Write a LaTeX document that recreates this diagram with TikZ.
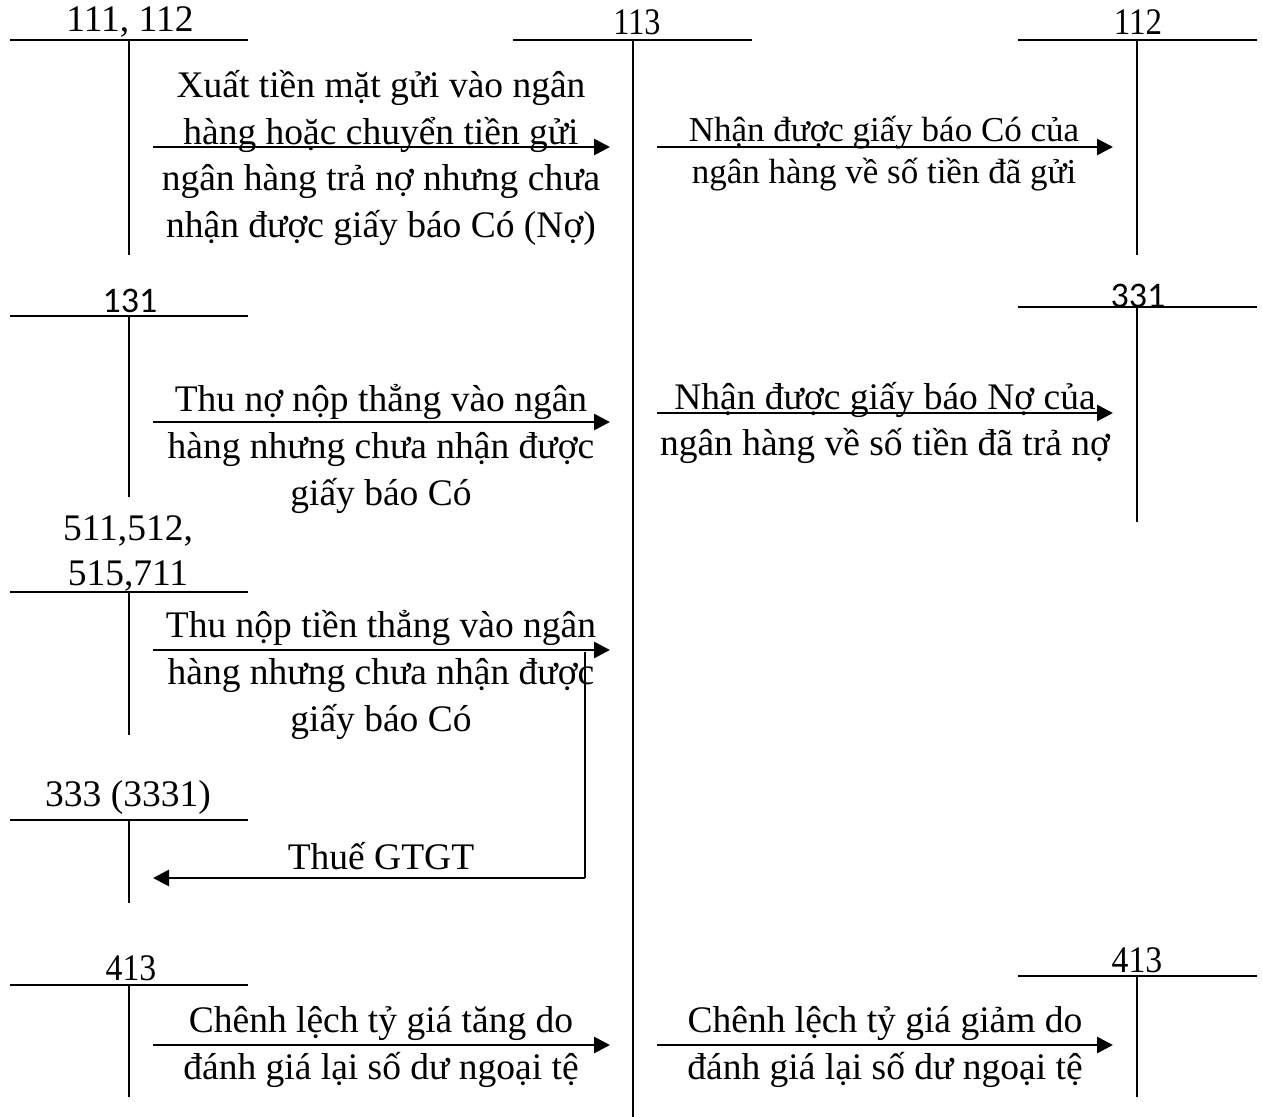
\documentclass[tikz,border=0pt]{standalone}
\usepackage{fontspec}
\setmainfont{Liberation Serif}
\newfontfamily\calibrifont{Carlito}
\usetikzlibrary{arrows.meta}
\tikzset{
  tline/.style={line width=1.8pt},
  arr/.style={line width=2.8pt,-{Triangle[length=16pt,width=16pt]}},
  lbl/.style={inner sep=0pt,font=\fontsize{37.5}{44}\selectfont},
  slbl/.style={inner sep=0pt,font=\calibrifont\fontsize{36}{44}\selectfont},
  desc/.style={inner sep=0pt,align=center,font=\fontsize{37.5}{46.7}\selectfont},
}
\begin{document}
\begin{tikzpicture}[x=1pt,y=-1pt]
\useasboundingbox (0,0) rectangle (1262,1117);
% ---- T-accounts
\node[lbl] (l111) at (130,22) {111, 112};
\draw[tline] (10,40) -- (248,40) (129,40) -- (129,255);
\node[lbl,xscale=0.86] (l113) at (637,22) {113};
\draw[tline] (513,40) -- (752,40) (633,40) -- (633,1117);
\node[lbl,xscale=0.88] (l112) at (1138,22) {112};
\draw[tline] (1018,40) -- (1257,40) (1137,40) -- (1137,255);
\node[slbl] (l131) at (130,301) {131};
\draw[tline] (10,316) -- (248,316) (129,316) -- (129,497);
\node[slbl] (l331) at (1138,296) {331};
\draw[tline] (1018,307) -- (1257,307) (1137,307) -- (1137,522);
\node[desc,font=\fontsize{37.5}{45}\selectfont] (l511) at (128,553) {511,512,\\515,711};
\draw[tline] (10,592) -- (248,592) (129,592) -- (129,735);
\node[lbl] (l333) at (128,797) {333 (3331)};
\draw[tline] (10,820) -- (248,820) (129,820) -- (129,903);
\node[lbl,xscale=0.9] (l413a) at (131,968) {413};
\draw[tline] (10,985) -- (248,985) (129,985) -- (129,1097);
\node[lbl,xscale=0.9] (l413b) at (1137,960) {413};
\draw[tline] (1018,976) -- (1257,976) (1137,976) -- (1137,1097);
% ---- arrows
\coordinate (a1s) at (153,147); \coordinate (a1e) at (610,147);
\coordinate (a2s) at (657,147); \coordinate (a2e) at (1113,147);
\coordinate (a3s) at (153,422); \coordinate (a3e) at (610,422);
\coordinate (a4s) at (657,413); \coordinate (a4e) at (1113,413);
\coordinate (a5s) at (153,650); \coordinate (a5e) at (610,650);
\coordinate (v1) at (585,652); \coordinate (v2) at (585,878); \coordinate (v3) at (153,878);
\coordinate (a6s) at (153,1045); \coordinate (a6e) at (610,1045);
\coordinate (a7s) at (657,1045); \coordinate (a7e) at (1113,1045);
\draw[arr] (a1s) -- (a1e);
\draw[arr] (a2s) -- (a2e);
\draw[arr] (a3s) -- (a3e);
\draw[arr] (a4s) -- (a4e);
\draw[arr] (a5s) -- (a5e);
\draw[line width=1.8pt] (v1) -- (v2);
\draw[arr] (v2) -- (v3);
\draw[arr] (a6s) -- (a6e);
\draw[arr] (a7s) -- (a7e);
% ---- texts
\node[desc] (t1) at (381,158) {Xuất tiền mặt gửi vào ngân\\hàng hoặc chuyển tiền gửi\\ngân hàng trả nợ nhưng chưa\\nhận được giấy báo Có (Nợ)};
\node[desc,font=\fontsize{35}{42}\selectfont] (t2) at (884,154) {Nhận được giấy báo Có của\\ngân hàng về số tiền đã gửi};
\node[desc] (t3) at (381,449) {Thu nợ nộp thẳng vào ngân\\hàng nhưng chưa nhận được\\giấy báo Có};
\node[desc] (t4) at (885,423) {Nhận được giấy báo Nợ của\\ngân hàng về số tiền đã trả nợ};
\node[desc] (t5) at (381,675) {Thu nộp tiền thẳng vào ngân\\hàng nhưng chưa nhận được\\giấy báo Có};
\node[lbl] (t6) at (381,856) {Thuế GTGT};
\node[desc] (t7) at (381,1047) {Chênh lệch tỷ giá tăng do\\đánh giá lại số dư ngoại tệ};
\node[desc] (t8) at (885,1047) {Chênh lệch tỷ giá giảm do\\đánh giá lại số dư ngoại tệ};
\end{tikzpicture}
\end{document}
